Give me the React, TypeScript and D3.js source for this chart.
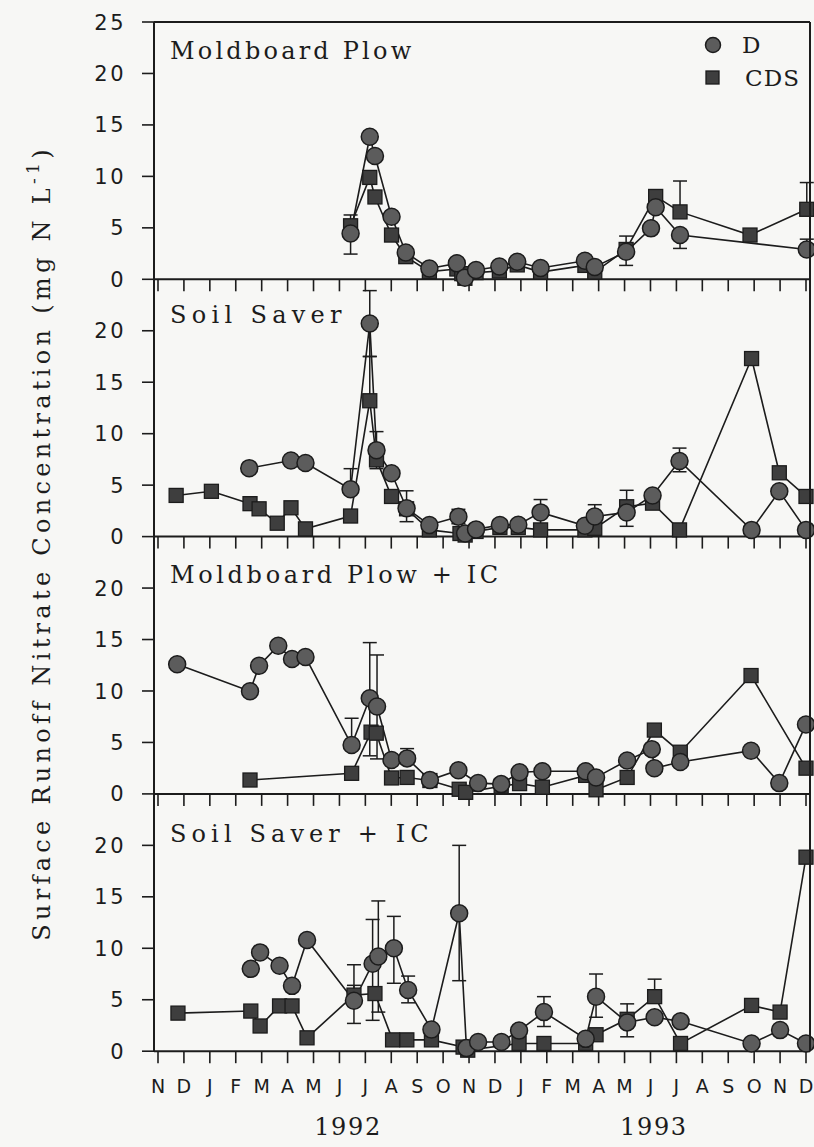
import React from "react";
import * as d3 from "d3";

type Pt = [number, number];
type Err = [number, number, number];

// x values are months counted from the Nov 1991 tick (0) to the Dec 1993 tick (25)
const monthLabels = ["N","D","J","F","M","A","M","J","J","A","S","O","N","D","J","F","M","A","M","J","J","A","S","O","N","D"];
const yearLabels = ["1992", "1993"];
const yearPositions = [7.3, 19.1];
const panelTitles = ["Moldboard Plow", "Soil Saver", "Moldboard Plow + IC", "Soil Saver + IC"];
const yTicksTop = [0, 5, 10, 15, 20, 25];
const yTicksOther = [0, 5, 10, 15, 20];
const seriesNames = ["D", "CDS"];

// Moldboard Plow
const mpD: Pt[] = [[7.43,4.45],[8.17,13.85],[8.37,11.98],[9.01,6.08],[9.56,2.6],[10.47,1.05],[11.53,1.55],[11.84,0.15],[12.27,0.9],[13.17,1.25],[13.86,1.7],[14.76,1.1],[16.47,1.8],[16.85,1.2],[18.06,2.68],[19.02,4.95],[19.2,7.0],[20.14,4.3],[25.03,2.9]];
const mpCDS: Pt[] = [[7.43,5.2],[8.17,9.9],[8.37,8.0],[9.01,4.3],[9.56,2.2],[10.47,0.75],[11.53,1.0],[11.72,0.55],[11.84,0.1],[12.27,0.65],[13.17,0.8],[13.86,1.4],[14.76,0.7],[16.47,1.35],[16.85,0.7],[18.06,2.9],[19.2,8.05],[20.14,6.55],[22.84,4.3],[25.03,6.8]];
const mpErrD: Err[] = [[7.43,2.45,6.25],[18.06,1.35,4.2],[20.14,3.0,4.3],[25.03,2.9,3.9]];
const mpErrCDS: Err[] = [[20.14,6.55,9.55],[25.03,6.8,9.4]];

// Soil Saver
const ssD: Pt[] = [[3.52,6.65],[5.13,7.4],[5.69,7.15],[7.43,4.6],[8.17,20.7],[8.43,8.4],[9.01,6.15],[9.59,2.75],[10.47,1.13],[11.59,1.94],[11.85,0.3],[12.27,0.7],[13.19,1.13],[13.9,1.15],[14.76,2.35],[16.47,1.05],[16.85,1.95],[18.08,2.35],[19.08,4.0],[20.12,7.35],[22.9,0.65],[23.97,4.4],[25.0,0.65]];
const ssCDS: Pt[] = [[0.7,4.0],[2.06,4.4],[3.55,3.2],[3.9,2.7],[4.6,1.3],[5.13,2.8],[5.69,0.75],[7.43,2.0],[8.17,13.2],[8.43,7.45],[9.01,3.9],[9.59,2.7],[10.47,0.65],[11.65,0.3],[11.85,0.15],[12.27,0.5],[13.19,0.9],[13.9,0.9],[14.76,0.65],[16.47,0.65],[16.85,0.8],[18.08,2.9],[19.08,3.25],[20.12,0.65],[22.9,17.3],[23.97,6.2],[25.0,3.9]];
const ssErrD: Err[] = [[7.43,4.6,6.6],[8.17,17.5,23.9],[8.43,6.6,10.2],[9.59,1.45,4.45],[11.59,1.25,2.65],[14.76,1.1,3.6],[16.85,0.8,3.1],[18.08,1.0,4.5],[20.12,6.3,8.6]];
const ssErrCDS: Err[] = [[8.17,13.2,17.5]];

// Moldboard Plow + IC
const mpicD: Pt[] = [[0.74,12.6],[3.55,9.97],[3.9,12.45],[4.64,14.4],[5.17,13.1],[5.69,13.3],[7.47,4.75],[8.17,9.3],[8.45,8.5],[9.01,3.3],[9.61,3.45],[10.49,1.35],[11.59,2.3],[12.35,1.05],[13.24,0.95],[13.95,2.1],[14.83,2.2],[16.5,2.2],[16.9,1.6],[18.1,3.25],[19.05,4.35],[19.15,2.5],[20.15,3.1],[22.88,4.2],[23.97,1.05],[25.0,6.75]];
const mpicCDS: Pt[] = [[3.55,1.35],[7.47,2.0],[8.22,6.0],[8.42,5.9],[9.01,1.55],[9.61,1.6],[10.49,1.3],[11.62,0.45],[11.87,0.15],[13.24,0.75],[13.95,1.0],[14.83,0.65],[16.5,1.8],[16.9,0.4],[18.1,1.6],[19.15,6.2],[20.15,4.05],[22.88,11.5],[25.0,2.5]];
const mpicErrD: Err[] = [[7.47,4.75,7.35],[8.17,3.7,14.7],[8.45,3.4,13.5],[9.61,3.45,4.4]];
const mpicErrCDS: Err[] = [];

// Soil Saver + IC
const ssicD: Pt[] = [[3.58,8.0],[3.94,9.6],[4.69,8.3],[5.17,6.35],[5.75,10.8],[7.56,4.9],[8.28,8.5],[8.5,9.2],[9.1,10.0],[9.65,5.95],[10.55,2.1],[11.62,13.4],[11.9,0.3],[12.35,0.9],[13.25,0.9],[13.93,2.0],[14.89,3.8],[16.5,1.2],[16.9,5.3],[18.1,2.8],[19.16,3.3],[20.16,2.9],[22.9,0.75],[24.0,2.05],[25.0,0.75]];
const ssicCDS: Pt[] = [[0.77,3.7],[3.58,3.9],[3.94,2.45],[4.69,4.4],[5.17,4.4],[5.75,1.3],[7.56,5.45],[8.37,5.6],[9.05,1.1],[9.6,1.1],[10.55,1.1],[11.77,0.4],[11.95,0.1],[13.93,0.75],[14.89,0.75],[16.5,0.75],[16.9,1.6],[18.1,3.1],[19.16,5.3],[20.16,0.75],[22.9,4.45],[24.0,3.8],[25.0,18.85]];
const ssicErrD: Err[] = [[7.56,2.7,8.4],[8.28,3.0,12.8],[8.5,3.8,14.6],[9.1,6.6,13.1],[9.65,4.7,7.3],[11.62,6.85,20.0],[14.89,2.4,5.3],[16.9,3.3,7.5],[18.1,1.4,4.6]];
const ssicErrCDS: Err[] = [[7.56,5.45,6.4],[19.16,5.3,7.0]];

const panels = [
  { title: panelTitles[0], D: mpD, CDS: mpCDS, errD: mpErrD, errCDS: mpErrCDS, ticks: yTicksTop },
  { title: panelTitles[1], D: ssD, CDS: ssCDS, errD: ssErrD, errCDS: ssErrCDS, ticks: yTicksOther },
  { title: panelTitles[2], D: mpicD, CDS: mpicCDS, errD: mpicErrD, errCDS: mpicErrCDS, ticks: yTicksOther },
  { title: panelTitles[3], D: ssicD, CDS: ssicCDS, errD: ssicErrD, errCDS: ssicErrCDS, ticks: yTicksOther },
];

const W = 814;
const H = 1147;
const LEFT = 154;
const RIGHT = 810;
const TOP = 22;
const PH = 257.3;
const TITLE_OFFSETS = [37, 44, 46, 48];
const CHAR_W = 17.4;
const INK = "#1c1c1c";
const SERIF = "'DejaVu Serif', 'Liberation Serif', serif";
const SANS = "'DejaVu Sans', sans-serif";

const monoWidth = (s: string) => CHAR_W * (s.length - 1) + 15;

export default function App() {
  const x = d3.scaleLinear().domain([0, 25]).range([158, 806]);

  const circleFill = "#5c5c5c";
  const squareFill = "#3e3e3e";
  const R = 8.5;
  const S = 14;

  return (
    <svg width={W} height={H} style={{ position: "absolute", left: 0, top: 0, background: "#f7f7f5" }}>
      <rect x={0} y={0} width={W} height={H} fill="#f7f7f5" />
      {panels.map((p, i) => {
        const top = TOP + i * PH;
        const bottom = top + PH;
        const y = d3.scaleLinear().domain([0, 25]).range([bottom, top]);
        const line = d3.line<Pt>().x((d) => x(d[0])).y((d) => y(d[1]));
        const errs = (arr: Err[], key: string) =>
          arr.map((e, k) => (
            <g key={key + k} stroke={INK} strokeWidth={1.5}>
              <line x1={x(e[0])} x2={x(e[0])} y1={y(e[1])} y2={y(e[2])} />
              <line x1={x(e[0]) - 7} x2={x(e[0]) + 7} y1={y(e[1])} y2={y(e[1])} />
              <line x1={x(e[0]) - 7} x2={x(e[0]) + 7} y1={y(e[2])} y2={y(e[2])} />
            </g>
          ));
        return (
          <g key={i}>
            <line x1={LEFT} x2={RIGHT} y1={bottom} y2={bottom} stroke={INK} strokeWidth={2} />
            {monthLabels.map((_, k) => (
              <line key={k} x1={x(k)} x2={x(k)} y1={bottom} y2={bottom + 12} stroke={INK} strokeWidth={1.6} />
            ))}
            {p.ticks.map((t) => (
              <g key={t}>
                <line x1={LEFT - 12} x2={LEFT} y1={y(t)} y2={y(t)} stroke={INK} strokeWidth={1.6} />
                <text
                  x={126}
                  y={y(t)}
                  dy="0.36em"
                  textAnchor="end"
                  fontFamily={SANS}
                  fontSize={21}
                  letterSpacing={2.5}
                  fill={INK}
                >
                  {t}
                </text>
              </g>
            ))}
            <text
              x={170}
              y={top + TITLE_OFFSETS[i]}
              fontFamily={SERIF}
              fontSize={24}
              textLength={monoWidth(p.title)}
              lengthAdjust="spacing"
              fill={INK}
            >
              {p.title}
            </text>
            <path d={line(p.D) || ""} fill="none" stroke={INK} strokeWidth={1.6} />
            <path d={line(p.CDS) || ""} fill="none" stroke={INK} strokeWidth={1.6} />
            {errs(p.errD, "ed")}
            {errs(p.errCDS, "ec")}
            {p.CDS.map((d, k) => (
              <rect
                key={"s" + k}
                x={x(d[0]) - S / 2}
                y={y(d[1]) - S / 2}
                width={S}
                height={S}
                fill={squareFill}
                stroke={INK}
                strokeWidth={1.3}
              />
            ))}
            {p.D.map((d, k) => (
              <circle key={"c" + k} cx={x(d[0])} cy={y(d[1])} r={R} fill={circleFill} stroke={INK} strokeWidth={1.5} />
            ))}
          </g>
        );
      })}
      <line x1={LEFT} x2={RIGHT} y1={TOP} y2={TOP} stroke={INK} strokeWidth={2} />
      <line x1={LEFT} x2={LEFT} y1={TOP} y2={TOP + 4 * PH} stroke={INK} strokeWidth={2} />
      <line x1={RIGHT} x2={RIGHT} y1={TOP} y2={TOP + 4 * PH} stroke={INK} strokeWidth={2} />

      {/* legend */}
      <circle cx={713} cy={45} r={R - 1} fill={circleFill} stroke={INK} strokeWidth={1.5} />
      <text x={742} y={53} fontFamily={SERIF} fontSize={23} fill={INK}>{seriesNames[0]}</text>
      <rect x={713 - S / 2} y={78 - S / 2} width={S - 1} height={S - 1} fill={squareFill} stroke={INK} strokeWidth={1.3} />
      <text x={745} y={86} fontFamily={SERIF} fontSize={23} textLength={54} lengthAdjust="spacing" fill={INK}>{seriesNames[1]}</text>

      {monthLabels.map((m, k) => (
        <text key={k} x={x(k)} y={1093} textAnchor="middle" fontFamily={SANS} fontSize={19} fill={INK}>
          {m}
        </text>
      ))}
      {yearLabels.map((yl, k) => (
        <text
          key={yl}
          x={x(yearPositions[k]) - 33}
          y={1135}
          fontFamily={SERIF}
          fontSize={24}
          textLength={66}
          lengthAdjust="spacing"
          fill={INK}
        >
          {yl}
        </text>
      ))}

      <text transform="translate(50,543) rotate(-90)" textAnchor="middle" fontFamily={SERIF} fontSize={24} letterSpacing={4.3} fill={INK}>
        Surface Runoff Nitrate Concentration (mg N L
        <tspan dy={-11} fontSize={17}>-1</tspan>
        <tspan dy={11}>)</tspan>
      </text>
    </svg>
  );
}
